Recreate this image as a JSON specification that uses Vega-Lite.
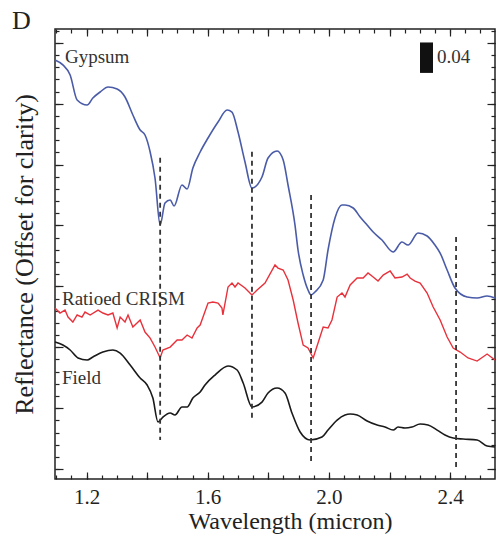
{
 "$schema": "https://vega.github.io/schema/vega-lite/v6.json",
 "width": 440,
 "height": 450,
 "autosize": {"type": "none"},
 "padding": {"left": 55, "top": 29, "right": 2, "bottom": 65},
 "title": {"text": "D", "anchor": "start", "frame": "group", "font": "Liberation Serif", "fontSize": 26, "fontWeight": "normal", "color": "#222", "dx": -43, "dy": 28, "baseline": "alphabetic", "offset": 1},
 "config": {
  "view": {"stroke": "#222", "strokeWidth": 1.5},
  "font": "Liberation Serif",
  "axis": {"grid": false, "domain": false, "tickColor": "#222", "tickWidth": 1.2, "labelFont": "Liberation Serif", "titleFont": "Liberation Serif", "labelColor": "#222", "titleColor": "#222", "titleFontWeight": "normal"}
 },
 "datasets": {
  "spectra": [
   {"series":"Gypsum","wavelength":1.096,"reflectance":0.5375},{"series":"Gypsum","wavelength":1.122,"reflectance":0.531},{"series":"Gypsum","wavelength":1.146,"reflectance":0.5177},{"series":"Gypsum","wavelength":1.169,"reflectance":0.4849},{"series":"Gypsum","wavelength":1.202,"reflectance":0.4783},{"series":"Gypsum","wavelength":1.221,"reflectance":0.4875},{"series":"Gypsum","wavelength":1.245,"reflectance":0.4954},{"series":"Gypsum","wavelength":1.271,"reflectance":0.502},{"series":"Gypsum","wavelength":1.301,"reflectance":0.4993},{"series":"Gypsum","wavelength":1.327,"reflectance":0.4888},{"series":"Gypsum","wavelength":1.353,"reflectance":0.4652},{"series":"Gypsum","wavelength":1.377,"reflectance":0.4455},{"series":"Gypsum","wavelength":1.393,"reflectance":0.4389},{"series":"Gypsum","wavelength":1.41,"reflectance":0.4166},{"series":"Gypsum","wavelength":1.426,"reflectance":0.3824},{"series":"Gypsum","wavelength":1.443,"reflectance":0.3206},{"series":"Gypsum","wavelength":1.459,"reflectance":0.3495},{"series":"Gypsum","wavelength":1.476,"reflectance":0.3535},{"series":"Gypsum","wavelength":1.489,"reflectance":0.3456},{"series":"Gypsum","wavelength":1.515,"reflectance":0.3732},{"series":"Gypsum","wavelength":1.532,"reflectance":0.3679},{"series":"Gypsum","wavelength":1.551,"reflectance":0.3955},{"series":"Gypsum","wavelength":1.575,"reflectance":0.4166},{"series":"Gypsum","wavelength":1.601,"reflectance":0.435},{"series":"Gypsum","wavelength":1.634,"reflectance":0.456},{"series":"Gypsum","wavelength":1.664,"reflectance":0.4717},{"series":"Gypsum","wavelength":1.68,"reflectance":0.4691},{"series":"Gypsum","wavelength":1.7,"reflectance":0.4428},{"series":"Gypsum","wavelength":1.723,"reflectance":0.4034},{"series":"Gypsum","wavelength":1.746,"reflectance":0.3692},{"series":"Gypsum","wavelength":1.779,"reflectance":0.3837},{"series":"Gypsum","wavelength":1.799,"reflectance":0.4087},{"series":"Gypsum","wavelength":1.829,"reflectance":0.4179},{"series":"Gypsum","wavelength":1.849,"reflectance":0.406},{"series":"Gypsum","wavelength":1.865,"reflectance":0.3732},{"series":"Gypsum","wavelength":1.888,"reflectance":0.3206},{"series":"Gypsum","wavelength":1.898,"reflectance":0.2878},{"series":"Gypsum","wavelength":1.915,"reflectance":0.2549},{"series":"Gypsum","wavelength":1.931,"reflectance":0.2352},{"series":"Gypsum","wavelength":1.941,"reflectance":0.2286},{"series":"Gypsum","wavelength":1.954,"reflectance":0.2326},{"series":"Gypsum","wavelength":1.981,"reflectance":0.2484},{"series":"Gypsum","wavelength":1.997,"reflectance":0.2878},{"series":"Gypsum","wavelength":2.02,"reflectance":0.3298},{"series":"Gypsum","wavelength":2.043,"reflectance":0.3469},{"series":"Gypsum","wavelength":2.053,"reflectance":0.3469},{"series":"Gypsum","wavelength":2.08,"reflectance":0.343},{"series":"Gypsum","wavelength":2.103,"reflectance":0.3311},{"series":"Gypsum","wavelength":2.126,"reflectance":0.3206},{"series":"Gypsum","wavelength":2.146,"reflectance":0.3114},{"series":"Gypsum","wavelength":2.175,"reflectance":0.3009},{"series":"Gypsum","wavelength":2.212,"reflectance":0.2852},{"series":"Gypsum","wavelength":2.241,"reflectance":0.2983},{"series":"Gypsum","wavelength":2.261,"reflectance":0.2943},{"series":"Gypsum","wavelength":2.294,"reflectance":0.3101},{"series":"Gypsum","wavelength":2.324,"reflectance":0.3062},{"series":"Gypsum","wavelength":2.35,"reflectance":0.2943},{"series":"Gypsum","wavelength":2.367,"reflectance":0.2838},{"series":"Gypsum","wavelength":2.39,"reflectance":0.2615},{"series":"Gypsum","wavelength":2.416,"reflectance":0.2378},{"series":"Gypsum","wavelength":2.456,"reflectance":0.226},{"series":"Gypsum","wavelength":2.489,"reflectance":0.2247},{"series":"Gypsum","wavelength":2.522,"reflectance":0.2273},{"series":"Gypsum","wavelength":2.548,"reflectance":0.2247},
   {"series":"Ratioed CRISM","wavelength":1.096,"reflectance":0.2116},{"series":"Ratioed CRISM","wavelength":1.1125,"reflectance":0.205},{"series":"Ratioed CRISM","wavelength":1.129,"reflectance":0.2089},{"series":"Ratioed CRISM","wavelength":1.139,"reflectance":0.1997},{"series":"Ratioed CRISM","wavelength":1.155,"reflectance":0.1932},{"series":"Ratioed CRISM","wavelength":1.169,"reflectance":0.2024},{"series":"Ratioed CRISM","wavelength":1.185,"reflectance":0.1997},{"series":"Ratioed CRISM","wavelength":1.195,"reflectance":0.2063},{"series":"Ratioed CRISM","wavelength":1.212,"reflectance":0.2024},{"series":"Ratioed CRISM","wavelength":1.238,"reflectance":0.2089},{"series":"Ratioed CRISM","wavelength":1.254,"reflectance":0.205},{"series":"Ratioed CRISM","wavelength":1.271,"reflectance":0.2024},{"series":"Ratioed CRISM","wavelength":1.287,"reflectance":0.205},{"series":"Ratioed CRISM","wavelength":1.301,"reflectance":0.1853},{"series":"Ratioed CRISM","wavelength":1.311,"reflectance":0.1997},{"series":"Ratioed CRISM","wavelength":1.327,"reflectance":0.1932},{"series":"Ratioed CRISM","wavelength":1.337,"reflectance":0.2024},{"series":"Ratioed CRISM","wavelength":1.353,"reflectance":0.1866},{"series":"Ratioed CRISM","wavelength":1.377,"reflectance":0.1958},{"series":"Ratioed CRISM","wavelength":1.393,"reflectance":0.18},{"series":"Ratioed CRISM","wavelength":1.41,"reflectance":0.1721},{"series":"Ratioed CRISM","wavelength":1.426,"reflectance":0.1603},{"series":"Ratioed CRISM","wavelength":1.443,"reflectance":0.1459},{"series":"Ratioed CRISM","wavelength":1.452,"reflectance":0.1564},{"series":"Ratioed CRISM","wavelength":1.476,"reflectance":0.1603},{"series":"Ratioed CRISM","wavelength":1.499,"reflectance":0.1695},{"series":"Ratioed CRISM","wavelength":1.515,"reflectance":0.1695},{"series":"Ratioed CRISM","wavelength":1.532,"reflectance":0.1761},{"series":"Ratioed CRISM","wavelength":1.548,"reflectance":0.1721},{"series":"Ratioed CRISM","wavelength":1.565,"reflectance":0.1853},{"series":"Ratioed CRISM","wavelength":1.575,"reflectance":0.1892},{"series":"Ratioed CRISM","wavelength":1.601,"reflectance":0.2181},{"series":"Ratioed CRISM","wavelength":1.617,"reflectance":0.2194},{"series":"Ratioed CRISM","wavelength":1.634,"reflectance":0.2181},{"series":"Ratioed CRISM","wavelength":1.647,"reflectance":0.2116},{"series":"Ratioed CRISM","wavelength":1.65,"reflectance":0.2024},{"series":"Ratioed CRISM","wavelength":1.667,"reflectance":0.2392},{"series":"Ratioed CRISM","wavelength":1.68,"reflectance":0.2444},{"series":"Ratioed CRISM","wavelength":1.69,"reflectance":0.2392},{"series":"Ratioed CRISM","wavelength":1.7,"reflectance":0.2444},{"series":"Ratioed CRISM","wavelength":1.723,"reflectance":0.2378},{"series":"Ratioed CRISM","wavelength":1.746,"reflectance":0.2286},{"series":"Ratioed CRISM","wavelength":1.763,"reflectance":0.2352},{"series":"Ratioed CRISM","wavelength":1.789,"reflectance":0.2444},{"series":"Ratioed CRISM","wavelength":1.822,"reflectance":0.2681},{"series":"Ratioed CRISM","wavelength":1.832,"reflectance":0.2641},{"series":"Ratioed CRISM","wavelength":1.849,"reflectance":0.2615},{"series":"Ratioed CRISM","wavelength":1.865,"reflectance":0.2484},{"series":"Ratioed CRISM","wavelength":1.882,"reflectance":0.2221},{"series":"Ratioed CRISM","wavelength":1.898,"reflectance":0.1919},{"series":"Ratioed CRISM","wavelength":1.915,"reflectance":0.1629},{"series":"Ratioed CRISM","wavelength":1.931,"reflectance":0.159},{"series":"Ratioed CRISM","wavelength":1.948,"reflectance":0.1459},{"series":"Ratioed CRISM","wavelength":1.964,"reflectance":0.1656},{"series":"Ratioed CRISM","wavelength":1.981,"reflectance":0.1866},{"series":"Ratioed CRISM","wavelength":1.997,"reflectance":0.1853},{"series":"Ratioed CRISM","wavelength":2.01,"reflectance":0.1958},{"series":"Ratioed CRISM","wavelength":2.027,"reflectance":0.226},{"series":"Ratioed CRISM","wavelength":2.043,"reflectance":0.2313},{"series":"Ratioed CRISM","wavelength":2.053,"reflectance":0.226},{"series":"Ratioed CRISM","wavelength":2.07,"reflectance":0.2418},{"series":"Ratioed CRISM","wavelength":2.093,"reflectance":0.251},{"series":"Ratioed CRISM","wavelength":2.113,"reflectance":0.251},{"series":"Ratioed CRISM","wavelength":2.129,"reflectance":0.2576},{"series":"Ratioed CRISM","wavelength":2.146,"reflectance":0.2523},{"series":"Ratioed CRISM","wavelength":2.162,"reflectance":0.247},{"series":"Ratioed CRISM","wavelength":2.179,"reflectance":0.2549},{"series":"Ratioed CRISM","wavelength":2.202,"reflectance":0.2602},{"series":"Ratioed CRISM","wavelength":2.218,"reflectance":0.251},{"series":"Ratioed CRISM","wavelength":2.241,"reflectance":0.2523},{"series":"Ratioed CRISM","wavelength":2.258,"reflectance":0.2562},{"series":"Ratioed CRISM","wavelength":2.268,"reflectance":0.251},{"series":"Ratioed CRISM","wavelength":2.284,"reflectance":0.247},{"series":"Ratioed CRISM","wavelength":2.301,"reflectance":0.2444},{"series":"Ratioed CRISM","wavelength":2.324,"reflectance":0.2313},{"series":"Ratioed CRISM","wavelength":2.344,"reflectance":0.2129},{"series":"Ratioed CRISM","wavelength":2.367,"reflectance":0.1958},{"series":"Ratioed CRISM","wavelength":2.39,"reflectance":0.1735},{"series":"Ratioed CRISM","wavelength":2.41,"reflectance":0.159},{"series":"Ratioed CRISM","wavelength":2.433,"reflectance":0.1537},{"series":"Ratioed CRISM","wavelength":2.459,"reflectance":0.1459},{"series":"Ratioed CRISM","wavelength":2.489,"reflectance":0.1419},{"series":"Ratioed CRISM","wavelength":2.522,"reflectance":0.1511},{"series":"Ratioed CRISM","wavelength":2.548,"reflectance":0.1432},
   {"series":"Field","wavelength":1.096,"reflectance":0.1669},{"series":"Field","wavelength":1.122,"reflectance":0.1629},{"series":"Field","wavelength":1.146,"reflectance":0.1564},{"series":"Field","wavelength":1.172,"reflectance":0.1459},{"series":"Field","wavelength":1.202,"reflectance":0.1432},{"series":"Field","wavelength":1.221,"reflectance":0.1472},{"series":"Field","wavelength":1.254,"reflectance":0.1537},{"series":"Field","wavelength":1.287,"reflectance":0.1564},{"series":"Field","wavelength":1.311,"reflectance":0.1524},{"series":"Field","wavelength":1.344,"reflectance":0.1367},{"series":"Field","wavelength":1.377,"reflectance":0.1196},{"series":"Field","wavelength":1.4,"reflectance":0.1104},{"series":"Field","wavelength":1.419,"reflectance":0.0933},{"series":"Field","wavelength":1.436,"reflectance":0.0618},{"series":"Field","wavelength":1.452,"reflectance":0.0683},{"series":"Field","wavelength":1.476,"reflectance":0.0736},{"series":"Field","wavelength":1.492,"reflectance":0.071},{"series":"Field","wavelength":1.515,"reflectance":0.0815},{"series":"Field","wavelength":1.532,"reflectance":0.0815},{"series":"Field","wavelength":1.551,"reflectance":0.0933},{"series":"Field","wavelength":1.575,"reflectance":0.1012},{"series":"Field","wavelength":1.591,"reflectance":0.1104},{"series":"Field","wavelength":1.624,"reflectance":0.1235},{"series":"Field","wavelength":1.667,"reflectance":0.1354},{"series":"Field","wavelength":1.697,"reflectance":0.1301},{"series":"Field","wavelength":1.717,"reflectance":0.113},{"series":"Field","wavelength":1.746,"reflectance":0.0815},{"series":"Field","wavelength":1.779,"reflectance":0.088},{"series":"Field","wavelength":1.799,"reflectance":0.0999},{"series":"Field","wavelength":1.829,"reflectance":0.1064},{"series":"Field","wavelength":1.855,"reflectance":0.0999},{"series":"Field","wavelength":1.878,"reflectance":0.0736},{"series":"Field","wavelength":1.905,"reflectance":0.0486},{"series":"Field","wavelength":1.938,"reflectance":0.0381},{"series":"Field","wavelength":1.977,"reflectance":0.042},{"series":"Field","wavelength":1.997,"reflectance":0.0512},{"series":"Field","wavelength":2.027,"reflectance":0.0644},{"series":"Field","wavelength":2.053,"reflectance":0.071},{"series":"Field","wavelength":2.07,"reflectance":0.0723},{"series":"Field","wavelength":2.093,"reflectance":0.071},{"series":"Field","wavelength":2.126,"reflectance":0.0631},{"series":"Field","wavelength":2.159,"reflectance":0.0578},{"series":"Field","wavelength":2.185,"reflectance":0.0552},{"series":"Field","wavelength":2.212,"reflectance":0.0512},{"series":"Field","wavelength":2.228,"reflectance":0.0552},{"series":"Field","wavelength":2.251,"reflectance":0.0539},{"series":"Field","wavelength":2.274,"reflectance":0.0552},{"series":"Field","wavelength":2.301,"reflectance":0.0591},{"series":"Field","wavelength":2.327,"reflectance":0.0578},{"series":"Field","wavelength":2.357,"reflectance":0.0512},{"series":"Field","wavelength":2.383,"reflectance":0.0447},{"series":"Field","wavelength":2.41,"reflectance":0.0407},{"series":"Field","wavelength":2.443,"reflectance":0.0394},{"series":"Field","wavelength":2.489,"reflectance":0.0381},{"series":"Field","wavelength":2.522,"reflectance":0.0302},{"series":"Field","wavelength":2.548,"reflectance":0.0289}
  ],
  "bands": [
   {"wavelength":1.443,"top":0.409,"bottom":0.038},
   {"wavelength":1.746,"top":0.417,"bottom":0.062},
   {"wavelength":1.941,"top":0.36,"bottom":0.0066},
   {"wavelength":2.4195,"top":0.305,"bottom":0.0013}
  ],
  "labels": [
   {"label":"Gypsum","wavelength":1.129,"reflectance":0.542},
   {"label":"Ratioed CRISM","wavelength":1.119,"reflectance":0.224},
   {"label":"Field","wavelength":1.119,"reflectance":0.119}
  ],
  "scalebar": [
   {"label":"0.04","wavelength":2.322,"low":0.5205,"high":0.5605,"textWavelength":2.357,"textReflectance":0.542}
  ]
 },
 "resolve": {"axis": {"x": "independent", "y": "independent"}},
 "layer": [
  {
   "data": {"name": "spectra"},
   "transform": [{"filter": "datum.series !== 'Ratioed CRISM'"}],
   "mark": {"type": "line", "interpolate": "monotone", "strokeWidth": 1.6},
   "encoding": {
    "x": {"field": "wavelength", "type": "quantitative", "scale": {"domain": [1.096, 2.548], "nice": false, "zero": false},
          "axis": {"orient": "bottom", "values": [1.2,1.4,1.6,1.8,2.0,2.2,2.4], "format": ".1f", "labelExpr": "indexof(['1.2','1.6','2.0','2.4'], datum.label) >= 0 ? datum.label : ''", "tickSize": -7, "labelFontSize": 21, "labelPadding": 14, "labelFlush": false, "title": "Wavelength (micron)", "titleFontSize": 24, "titlePadding": 2, "titleX": 235}},
    "y": {"field": "reflectance", "type": "quantitative", "scale": {"domain": [-0.0131, 0.5782], "nice": false, "zero": false},
          "axis": {"orient": "left", "values": [0,0.08,0.16,0.24,0.32,0.4,0.48,0.56], "tickSize": -8, "labels": false, "title": "Reflectance (Offset for clarity)", "titleFontSize": 26, "titlePadding": 17}},
    "color": {"field": "series", "type": "nominal", "scale": {"domain": ["Gypsum","Ratioed CRISM","Field"], "range": ["#4a5ba8","#e8313b","#1a1a1a"]}, "legend": null}
   }
  },
  {
   "data": {"name": "spectra"},
   "transform": [{"filter": "datum.series === 'Ratioed CRISM'"}],
   "mark": {"type": "line", "strokeWidth": 1.4},
   "encoding": {
    "x": {"field": "wavelength", "type": "quantitative", "scale": {"domain": [1.096, 2.548], "nice": false, "zero": false}, "axis": null},
    "y": {"field": "reflectance", "type": "quantitative", "scale": {"domain": [-0.0131, 0.5782], "nice": false, "zero": false}, "axis": null},
    "color": {"field": "series", "type": "nominal", "legend": null}
   }
  },
  {
   "data": {"name": "bands"},
   "mark": {"type": "rule", "strokeDash": [5, 4], "strokeWidth": 1.8, "color": "#333"},
   "encoding": {
    "x": {"field": "wavelength", "type": "quantitative", "scale": {"domain": [1.096, 2.548], "nice": false, "zero": false},
          "axis": {"orient": "bottom", "values": [1.1,1.15,1.2,1.25,1.3,1.35,1.4,1.45,1.5,1.55,1.6,1.65,1.7,1.75,1.8,1.85,1.9,1.95,2.0,2.05,2.1,2.15,2.2,2.25,2.3,2.35,2.4,2.45,2.5], "tickSize": -4, "labels": false, "title": null}},
    "y": {"field": "top", "type": "quantitative", "scale": {"domain": [-0.0131, 0.5782], "nice": false, "zero": false},
          "axis": {"orient": "left", "values": [0,0.016,0.032,0.048,0.064,0.08,0.096,0.112,0.128,0.144,0.16,0.176,0.192,0.208,0.224,0.24,0.256,0.272,0.288,0.304,0.32,0.336,0.352,0.368,0.384,0.4,0.416,0.432,0.448,0.464,0.48,0.496,0.512,0.528,0.544,0.56,0.576], "tickSize": -4, "labels": false, "title": null}},
    "y2": {"field": "bottom"}
   }
  },
  {
   "data": {"name": "labels"},
   "mark": {"type": "text", "align": "left", "baseline": "middle", "fontSize": 19, "font": "Liberation Serif", "color": "#333"},
   "encoding": {
    "x": {"field": "wavelength", "type": "quantitative", "scale": {"domain": [1.096, 2.548], "nice": false, "zero": false},
          "axis": {"orient": "top", "values": [1.2,1.4,1.6,1.8,2.0,2.2,2.4], "tickSize": -7, "labels": false, "title": null}},
    "y": {"field": "reflectance", "type": "quantitative", "scale": {"domain": [-0.0131, 0.5782], "nice": false, "zero": false},
          "axis": {"orient": "right", "values": [0,0.08,0.16,0.24,0.32,0.4,0.48,0.56], "tickSize": -8, "labels": false, "title": null}},
    "text": {"field": "label"}
   }
  },
  {
   "data": {"name": "scalebar"},
   "mark": {"type": "rule", "strokeWidth": 13, "color": "#111"},
   "encoding": {
    "x": {"field": "wavelength", "type": "quantitative", "scale": {"domain": [1.096, 2.548], "nice": false, "zero": false},
          "axis": {"orient": "top", "values": [1.1,1.15,1.2,1.25,1.3,1.35,1.4,1.45,1.5,1.55,1.6,1.65,1.7,1.75,1.8,1.85,1.9,1.95,2.0,2.05,2.1,2.15,2.2,2.25,2.3,2.35,2.4,2.45,2.5], "tickSize": -4, "labels": false, "title": null}},
    "y": {"field": "low", "type": "quantitative", "scale": {"domain": [-0.0131, 0.5782], "nice": false, "zero": false},
          "axis": {"orient": "right", "values": [0,0.016,0.032,0.048,0.064,0.08,0.096,0.112,0.128,0.144,0.16,0.176,0.192,0.208,0.224,0.24,0.256,0.272,0.288,0.304,0.32,0.336,0.352,0.368,0.384,0.4,0.416,0.432,0.448,0.464,0.48,0.496,0.512,0.528,0.544,0.56,0.576], "tickSize": -4, "labels": false, "title": null}},
    "y2": {"field": "high"}
   }
  },
  {
   "data": {"name": "scalebar"},
   "mark": {"type": "text", "align": "left", "baseline": "middle", "fontSize": 19, "font": "Liberation Serif", "color": "#333"},
   "encoding": {
    "x": {"field": "textWavelength", "type": "quantitative", "scale": {"domain": [1.096, 2.548], "nice": false, "zero": false}, "axis": null},
    "y": {"field": "textReflectance", "type": "quantitative", "scale": {"domain": [-0.0131, 0.5782], "nice": false, "zero": false}, "axis": null},
    "text": {"field": "label"}
   }
  }
 ]
}
